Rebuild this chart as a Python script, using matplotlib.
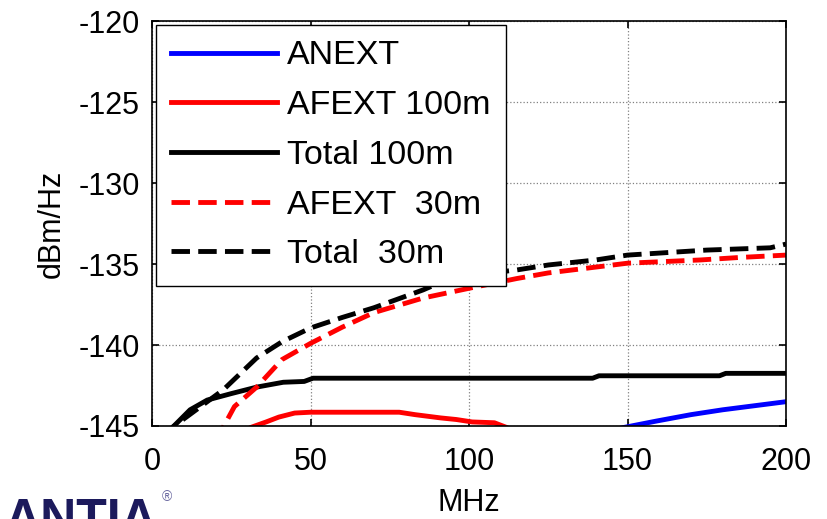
import matplotlib
matplotlib.use("Agg")
import matplotlib.pyplot as plt

plt.rcParams['font.family'] = ['Liberation Sans', 'DejaVu Sans']
plt.rcParams['axes.unicode_minus'] = False

# readings (MHz, dBm/Hz)
f_anext = [140, 148.6, 159, 170, 180, 192, 200]
anext = [-145.6, -145.1, -144.7, -144.3, -144.0, -143.7, -143.5]

f_afext100 = [28, 31, 36, 40, 45, 50, 78, 83, 91, 96, 101, 108, 112, 115]
afext100 = [-146.0, -145.1, -144.75, -144.45, -144.2, -144.15, -144.15, -144.3,
            -144.5, -144.6, -144.75, -144.8, -145.1, -145.6]

f_total100 = [5, 6.6, 12, 17.4, 25, 33, 41.4, 48, 50.8, 139, 141, 179, 181, 200]
total100 = [-145.6, -145.06, -144.0, -143.4, -143.0, -142.6, -142.3, -142.25, -142.05,
            -142.05, -141.9, -141.9, -141.75, -141.75]

f_afext30 = [20, 22.4, 26, 33, 41, 50, 60, 70, 85.5, 100, 115, 125, 150, 173, 185, 200]
afext30 = [-146.0, -145.1, -143.8, -142.6, -140.9, -139.9, -138.9, -138.0, -137.1,
           -136.5, -135.9, -135.55, -134.95, -134.75, -134.6, -134.45]

f_total30 = [4, 6.6, 22.4, 33, 41, 50, 60, 70, 85.5, 95, 115, 125, 140, 150, 175, 195, 200]
total30 = [-145.8, -145.06, -142.78, -140.8, -139.8, -138.95, -138.3, -137.7, -136.6,
           -135.8, -135.37, -135.06, -134.75, -134.45, -134.14, -134.0, -133.77]

xticks = [0, 50, 100, 150, 200]
yticks = [-145, -140, -135, -130, -125, -120]

fig = plt.figure(figsize=(8.28, 5.19), dpi=100)
ax = fig.add_axes([0.1836, 0.1792, 0.7657, 0.7803])

lw = 3.5
ax.plot(f_anext, anext, color='#0000ff', lw=lw, label='ANEXT')
ax.plot(f_afext100, afext100, color='#ff0000', lw=lw, label='AFEXT 100m')
ax.plot(f_total100, total100, color='black', lw=lw, label='Total 100m')
ax.plot(f_afext30, afext30, color='#ff0000', lw=lw, dashes=(3.8, 1.7), label='AFEXT  30m')
ax.plot(f_total30, total30, color='black', lw=lw, dashes=(3.8, 1.7), label='Total  30m')

ax.set_xlim(0, 200)
ax.set_ylim(-145, -120)
ax.set_xticks(xticks)
ax.set_yticks(yticks)
ax.grid(True, color='#808080', linestyle=':', linewidth=0.9)
ax.tick_params(direction='in', top=True, right=True, length=5, width=1.2,
               labelsize=22)
ax.tick_params(axis='y', pad=9)
ax.tick_params(axis='x', pad=15)
for s in ax.spines.values():
    s.set_linewidth(1.2)

ax.set_xlabel('MHz', fontsize=22, labelpad=8)
ax.set_ylabel('dBm/Hz', fontsize=22, labelpad=8)

leg = ax.legend(loc='upper left', bbox_to_anchor=(0, 1), fontsize=24.5,
                handlelength=3.1, handletextpad=0.3, labelspacing=0.55,
                borderaxespad=0.12, borderpad=0.45, handleheight=0.7,
                fancybox=False, framealpha=1, edgecolor='black')
leg.get_frame().set_linewidth(1.0)

# company logo peeking in at the bottom left
fig.text(0.006, 1 - 498 / 519, 'ANTIA', color='#1c1a5c', fontsize=36,
         fontweight='bold', va='top', ha='left')
fig.text(0.195, 1 - 490 / 519, '®', color='#6a68a0', fontsize=10, va='top', ha='left')

fig.savefig('out.png', dpi=100)
